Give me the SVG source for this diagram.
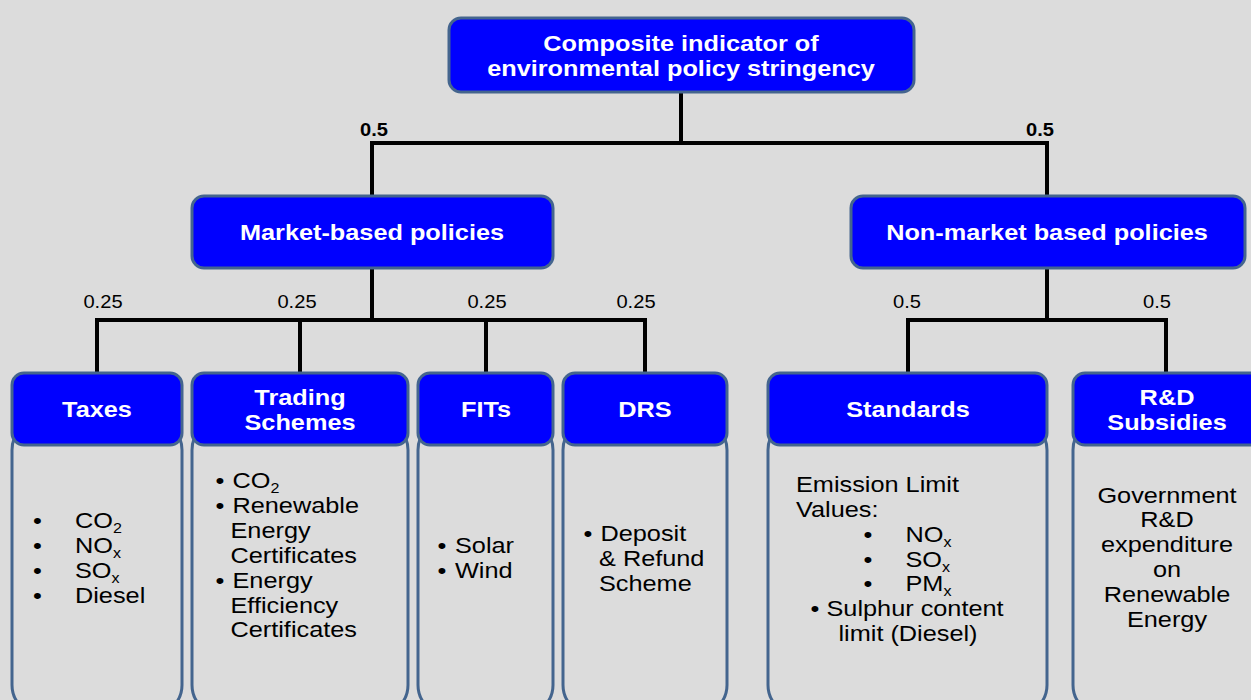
<svg xmlns="http://www.w3.org/2000/svg" width="1251" height="700" viewBox="0 0 1251 700">
<style>
.hdr{fill:#0000ff;stroke:#44658e;stroke-width:3}
.body{fill:#dcdcdc;stroke:#44658e;stroke-width:3}
.ht{font-family:"Liberation Sans",Arial,sans-serif;font-weight:bold;font-size:22px;fill:#ffffff;text-anchor:middle}
.bt{font-family:"Liberation Sans",Arial,sans-serif;font-size:22px;fill:#000000}
.c{text-anchor:middle}
.w{font-family:"Liberation Sans",Arial,sans-serif;font-size:17.5px;fill:#000000;text-anchor:middle}
.wb{font-weight:bold}
.ln{stroke:#000000;stroke-width:4;fill:none}
.sub{font-size:14px}
</style>
<rect x="0" y="0" width="1251" height="700" fill="#dcdcdc"/>
<g id="connectors">
<path class="ln" d="M681 92V143M372 143H1047M372 141V196M1047 141V196"/>
<path class="ln" d="M372 268V320M97 320H645M97 318V373M300 318V373M486 318V373M645 318V373"/>
<path class="ln" d="M1047 268V320M908 320H1166M908 318V373M1166 318V373"/>
<text class="w wb" transform="translate(374 136) scale(1.15 1)">0.5</text>
<text class="w wb" transform="translate(1040 136) scale(1.15 1)">0.5</text>
<text class="w" transform="translate(103 308) scale(1.15 1)">0.25</text>
<text class="w" transform="translate(297 308) scale(1.15 1)">0.25</text>
<text class="w" transform="translate(487 308) scale(1.15 1)">0.25</text>
<text class="w" transform="translate(636 308) scale(1.15 1)">0.25</text>
<text class="w" transform="translate(907 308) scale(1.15 1)">0.5</text>
<text class="w" transform="translate(1157 308) scale(1.15 1)">0.5</text>
</g>
<g id="root">
<rect class="hdr" x="449" y="18" width="465" height="74" rx="12"/>
<text class="ht" transform="translate(681 51) scale(1.15 1)">Composite indicator of</text>
<text class="ht" transform="translate(681 76) scale(1.15 1)">environmental policy stringency</text>
</g>
<g id="market">
<rect class="hdr" x="192" y="196" width="361" height="72" rx="12"/>
<text class="ht" transform="translate(372 240) scale(1.15 1)">Market-based policies</text>
</g>
<g id="nonmarket">
<rect class="hdr" x="851" y="196" width="394" height="72" rx="12"/>
<text class="ht" transform="translate(1047 240) scale(1.15 1)">Non-market based policies</text>
</g>
<g id="taxes">
<rect class="body" x="12" y="420" width="170" height="295" rx="30"/>
<rect class="hdr" x="12" y="373" width="170" height="72" rx="12"/>
<text class="ht" transform="translate(97 417) scale(1.15 1)">Taxes</text>
<g class="bt">
<text transform="translate(33 528) scale(1.15 1)">•</text><text transform="translate(75 528) scale(1.15 1)">CO<tspan class="sub" dy="5">2</tspan></text>
<text transform="translate(33 553) scale(1.15 1)">•</text><text transform="translate(75 553) scale(1.15 1)">NO<tspan class="sub" dy="5">x</tspan></text>
<text transform="translate(33 578) scale(1.15 1)">•</text><text transform="translate(75 578) scale(1.15 1)">SO<tspan class="sub" dy="5">x</tspan></text>
<text transform="translate(33 603) scale(1.15 1)">•</text><text transform="translate(75 603) scale(1.15 1)">Diesel</text>
</g>
</g>
<g id="trading">
<rect class="body" x="192" y="420" width="216" height="295" rx="30"/>
<rect class="hdr" x="192" y="373" width="216" height="72" rx="12"/>
<text class="ht" transform="translate(300 405) scale(1.15 1)">Trading</text>
<text class="ht" transform="translate(300 430) scale(1.15 1)">Schemes</text>
<g class="bt">
<text transform="translate(215.5 488) scale(1.15 1)">•</text><text transform="translate(232.5 488) scale(1.15 1)">CO<tspan class="sub" dy="5">2</tspan></text>
<text transform="translate(215.5 513) scale(1.15 1)">•</text><text transform="translate(232.5 513) scale(1.15 1)">Renewable</text>
<text transform="translate(230.5 538) scale(1.15 1)">Energy</text>
<text transform="translate(230.5 563) scale(1.15 1)">Certificates</text>
<text transform="translate(215.5 588) scale(1.15 1)">•</text><text transform="translate(232.5 588) scale(1.15 1)">Energy</text>
<text transform="translate(230.5 613) scale(1.15 1)">Efficiency</text>
<text transform="translate(230.5 637) scale(1.15 1)">Certificates</text>
</g>
</g>
<g id="fits">
<rect class="body" x="418" y="420" width="135" height="295" rx="30"/>
<rect class="hdr" x="418" y="373" width="135" height="72" rx="12"/>
<text class="ht" transform="translate(486 417) scale(1.15 1)">FITs</text>
<g class="bt">
<text transform="translate(437.5 553) scale(1.15 1)">•</text><text transform="translate(455 553) scale(1.15 1)">Solar</text>
<text transform="translate(437.5 578) scale(1.15 1)">•</text><text transform="translate(455 578) scale(1.15 1)">Wind</text>
</g>
</g>
<g id="drs">
<rect class="body" x="563" y="420" width="164" height="295" rx="30"/>
<rect class="hdr" x="563" y="373" width="164" height="72" rx="12"/>
<text class="ht" transform="translate(645 417) scale(1.15 1)">DRS</text>
<g class="bt">
<text transform="translate(583.5 541) scale(1.15 1)">•</text><text transform="translate(600.5 541) scale(1.15 1)">Deposit</text>
<text transform="translate(599 566) scale(1.15 1)">&amp; Refund</text>
<text transform="translate(599 591) scale(1.15 1)">Scheme</text>
</g>
</g>
<g id="standards">
<rect class="body" x="768" y="420" width="279" height="295" rx="30"/>
<rect class="hdr" x="768" y="373" width="279" height="72" rx="12"/>
<text class="ht" transform="translate(908 417) scale(1.15 1)">Standards</text>
<g class="bt">
<text transform="translate(796 492) scale(1.15 1)">Emission Limit</text>
<text transform="translate(796 517) scale(1.15 1)">Values:</text>
<text transform="translate(863.5 542) scale(1.15 1)">•</text><text transform="translate(905.5 542) scale(1.15 1)">NO<tspan class="sub" dy="5">x</tspan></text>
<text transform="translate(863.5 567) scale(1.15 1)">•</text><text transform="translate(905.5 567) scale(1.15 1)">SO<tspan class="sub" dy="5">x</tspan></text>
<text transform="translate(863.5 591) scale(1.15 1)">•</text><text transform="translate(905.5 591) scale(1.15 1)">PM<tspan class="sub" dy="5">x</tspan></text>
<text transform="translate(810.5 616) scale(1.15 1)">•</text><text transform="translate(826.5 616) scale(1.15 1)">Sulphur content</text>
<text class="c" transform="translate(908 641) scale(1.15 1)">limit (Diesel)</text>
</g>
</g>
<g id="rd">
<rect class="body" x="1073" y="420" width="190" height="295" rx="30"/>
<rect class="hdr" x="1073" y="373" width="190" height="72" rx="12"/>
<text class="ht" transform="translate(1167 405) scale(1.15 1)">R&amp;D</text>
<text class="ht" transform="translate(1167 430) scale(1.15 1)">Subsidies</text>
<g class="bt c">
<text transform="translate(1167 503) scale(1.15 1)">Government</text>
<text transform="translate(1167 527) scale(1.15 1)">R&amp;D</text>
<text transform="translate(1167 552) scale(1.15 1)">expenditure</text>
<text transform="translate(1167 577) scale(1.15 1)">on</text>
<text transform="translate(1167 602) scale(1.15 1)">Renewable</text>
<text transform="translate(1167 627) scale(1.15 1)">Energy</text>
</g>
</g>
</svg>
